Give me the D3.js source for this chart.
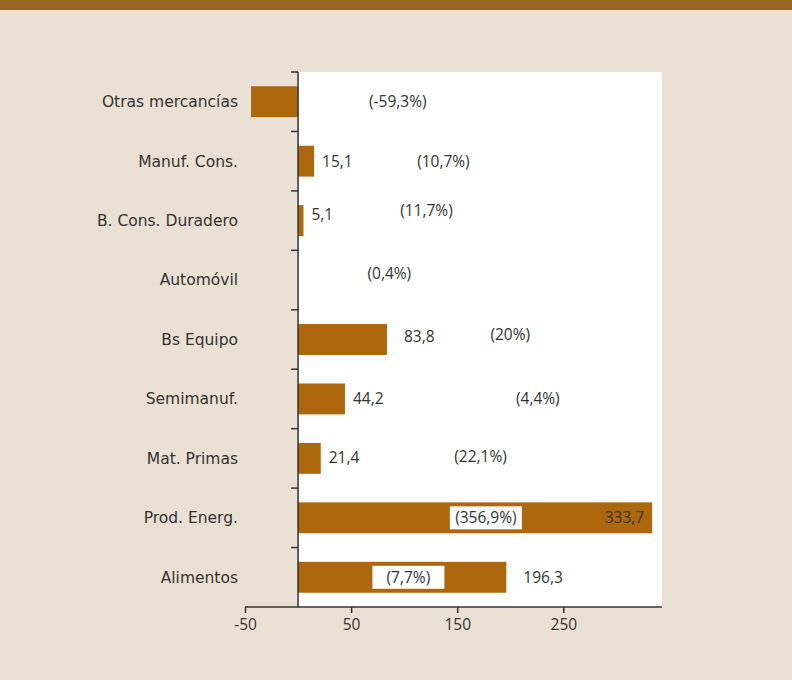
<!DOCTYPE html>
<head>
<meta charset="utf-8">
<script src="https://cdn.jsdelivr.net/npm/d3@7"></script>
<style>
  body { margin: 0; background: #ebe0d4; }
  svg { display: block; }
  .cat { font-family: "DejaVu Sans", sans-serif; font-size: 15.5px; fill: #333; }
  .num { font-family: "Open Sans", sans-serif; font-size: 15.5px; fill: #333; }
</style>
</head>
<body>
<svg width="792" height="680"></svg>
<script>
var categories = ["Otras mercancías", "Manuf. Cons.", "B. Cons. Duradero", "Automóvil",
                  "Bs Equipo", "Semimanuf.", "Mat. Primas", "Prod. Energ.", "Alimentos"]
var values     = [-44.3, 15.1, 5.1, 0, 83.8, 44.2, 21.4, 333.7, 196.3]
var showValue  = [false, true, true, false, true, true, true, true, true]
var pctLabels  = ["(-59,3%)", "(10,7%)", "(11,7%)", "(0,4%)", "(20%)", "(4,4%)", "(22,1%)", "(356,9%)", "(7,7%)"]
// where the growth label sits, in axis units
var pctAt      = [94, 137, 121, 86, 200, 226, 172, 177, 104]
var pctBoxed   = [false, false, false, false, false, false, false, true, true]
var xTicks     = [-50, 50, 150, 250]

var pctDy = [0, 0, -10, -6, -5, 0, -2, 0, 0]

var svg = d3.select('svg')
  , fmt = d3.formatLocale({decimal: ",", thousands: ".", grouping: [3], currency: ["", ""]}).format(".1f")

// header strip
svg.append('rect').attr('x', 0).attr('y', 0).attr('width', 792).attr('height', 10).attr('fill', '#9a6521')

var x = d3.scaleLinear().domain([-50, 343]).range([245, 662])
var y = d3.scaleBand().domain(categories).range([72, 607]).paddingInner(0.48).paddingOuter(0.24)
var x0 = x(0), yTop = y.range()[0], yBot = y.range()[1], step = y.step()

// white plot area
svg.append('rect').attr('x', x0).attr('y', yTop).attr('width', x.range()[1] - x0).attr('height', yBot - yTop).attr('fill', '#fff')

var rows = categories.map(function (c, i) { return {c: c, v: values[i], i: i} })

svg.selectAll('rect.bar').data(rows).enter().append('rect')
  .attr('class', 'bar')
  .attr('x', function (d) { return x(Math.min(0, d.v)) })
  .attr('width', function (d) { return Math.abs(x(d.v) - x0) })
  .attr('y', function (d) { return y(d.c) })
  .attr('height', y.bandwidth())
  .attr('fill', '#ad680e')

// y axis: line and ticks at band boundaries
svg.append('line').attr('x1', x0).attr('x2', x0).attr('y1', yTop).attr('y2', yBot)
  .attr('stroke', '#333').attr('stroke-width', 1.5)
svg.selectAll('line.yt').data(d3.range(categories.length)).enter().append('line')
  .attr('x1', x0 - 7).attr('x2', x0)
  .attr('y1', function (i) { return yTop + i * step }).attr('y2', function (i) { return yTop + i * step })
  .attr('stroke', '#333').attr('stroke-width', 1.5)

svg.selectAll('text.cat').data(rows).enter().append('text')
  .attr('class', 'cat')
  .attr('x', 238).attr('y', function (d) { return y(d.c) + y.bandwidth() / 2 })
  .attr('dy', '0.35em').attr('text-anchor', 'end')
  .text(function (d) { return d.c })

// x axis
var ax = svg.append('g').attr('transform', 'translate(0,' + yBot + ')')
  .call(d3.axisBottom(x).tickValues(xTicks).tickSize(6).tickSizeOuter(0).tickFormat(function (d) { return String(d) }))
ax.select('.domain').attr('d', 'M' + x(-50) + ',0H' + x.range()[1]).attr('stroke', '#333').attr('stroke-width', 1.5)
ax.selectAll('.tick line').attr('stroke', '#333').attr('stroke-width', 1.5)
ax.selectAll('.tick text').attr('class', 'num').attr('fill', null).attr('y', 12)
ax.attr('font-size', null).attr('font-family', null)

// value labels
svg.selectAll('text.val').data(rows.filter(function (d) { return showValue[d.i] })).enter().append('text')
  .attr('class', 'num')
  .attr('x', function (d) { return d.v > 300 ? x(d.v) - 8 : x(d.v) + (d.v > 80 ? 17 : 8) })
  .attr('y', function (d) { return y(d.c) + y.bandwidth() / 2 + pctDy[d.i] * 0.6 })
  .attr('dy', '0.35em')
  .attr('text-anchor', function (d) { return d.v > 300 ? 'end' : 'start' })
  .text(function (d) { return fmt(d.v) })

// growth labels
rows.forEach(function (d) {
  var cx = x(pctAt[d.i]), cy = y(d.c) + y.bandwidth() / 2 + pctDy[d.i]
  if (pctBoxed[d.i])
    svg.append('rect').attr('x', cx - 36).attr('y', cy - 11.5).attr('width', 72).attr('height', 23).attr('fill', '#fff')
  svg.append('text').attr('class', 'num').attr('x', cx).attr('y', cy).attr('dy', '0.35em')
    .attr('text-anchor', 'middle').text(pctLabels[d.i])
})
</script>
</body>
